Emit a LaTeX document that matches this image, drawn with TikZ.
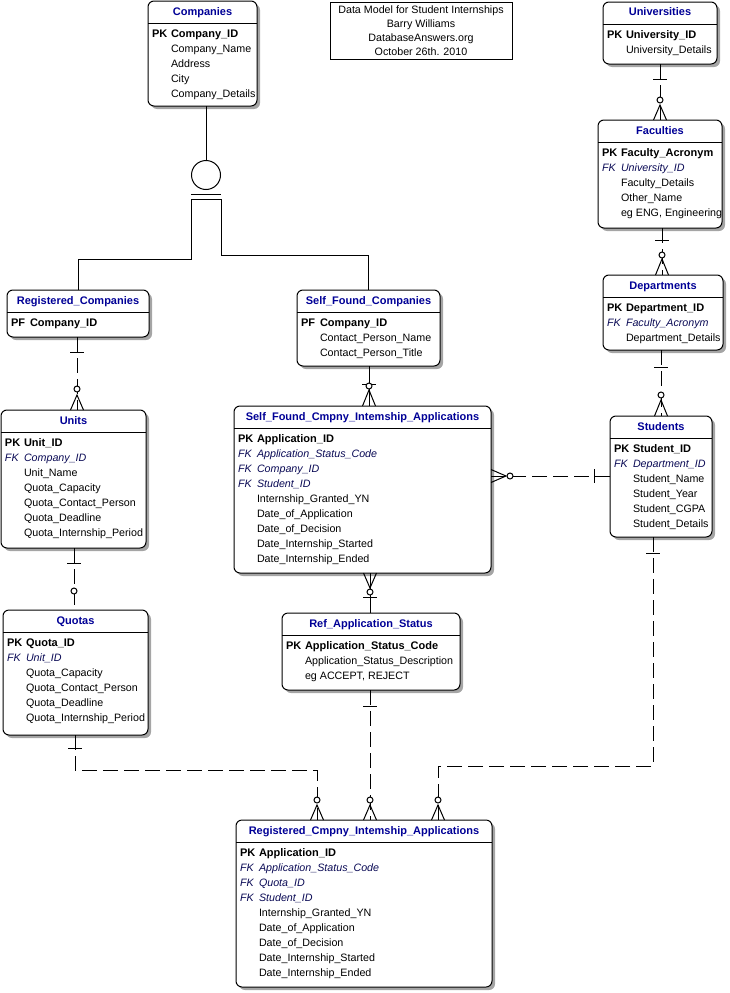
\documentclass[tikz,border=0pt]{standalone}
\usepackage{fontspec}
\setmainfont{Liberation Sans}
\usetikzlibrary{calc}
\definecolor{titleblue}{RGB}{0,0,150}
\definecolor{fkblue}{RGB}{10,10,85}
\definecolor{shadowc}{RGB}{165,165,165}
\tikzset{
  every node/.style={font=\fontsize{10.7}{13}\selectfont, inner sep=0pt, outer sep=0pt},
  entbox/.style={draw, fill=white, rounded corners=6pt, line width=1pt, anchor=north west},
  rel/.style={line width=1pt, dash pattern=on 15pt off 6pt},
  solidrel/.style={line width=1pt},
  endmk/.style={line width=1pt, solid},
}
\newcommand\bigbf{\fontsize{11}{13}\selectfont\bfseries}
\newcommand\erent[6]{%
  \fill[shadowc, rounded corners=6pt] (#2+3,#3+3) rectangle (#2+#4+3,#3+#5+3);
  \node[entbox, minimum width=#4pt, minimum height=#5pt] (#1) at (#2,#3) {};
  \node[anchor=base, text=titleblue] (#1-title) at ([shift={(0,14)}]#1.north) {\bigbf #6};
  \draw[line width=1pt] ([shift={(0,22)}]#1.north west) -- ([shift={(0,22)}]#1.north east);
}
\newcommand\pkrow[4]{%
  \node[anchor=base west] (#1-k#2) at ([shift={(4,36+15*#2)}]#1.north west) {\bigbf #3};
  \node[anchor=base west] (#1-a#2) at ([shift={(23,36+15*#2)}]#1.north west) {\bigbf #4};}
\newcommand\fkrow[3]{%
  \node[anchor=base west, text=fkblue] (#1-k#2) at ([shift={(4,36+15*#2)}]#1.north west) {\itshape FK};
  \node[anchor=base west, text=fkblue] (#1-a#2) at ([shift={(23,36+15*#2)}]#1.north west) {\itshape #3};}
\newcommand\plrow[3]{%
  \node[anchor=base west] (#1-a#2) at ([shift={(23,36+15*#2)}]#1.north west) {#3};}
\newcommand\onebar[2]{\draw[endmk] ([shift={(-7,#2)}]#1) -- ([shift={(7,#2)}]#1);}
\newcommand\zeroc[2]{\draw[endmk, fill=white] ([shift={(0,#2)}]#1) circle (3pt);}
\newcommand\crowft[2]{\draw[endmk] ([shift={(-6.5,0)}]#1) -- ([shift={(0,#2)}]#1) -- ([shift={(6.5,0)}]#1);}
\begin{document}
\begin{tikzpicture}[x=1pt,y=-1pt]
\useasboundingbox (0,0) rectangle (729,993);

% ---------- header ----------
\node[draw, line width=1pt, minimum width=182pt, minimum height=57pt, align=center,
      font=\fontsize{10.7}{14}\selectfont, anchor=north west] (hdr) at (330,2)
  {Data Model for Student Internships\\Barry Williams\\DatabaseAnswers.org\\October 26th. 2010};

% ---------- entities ----------
\erent{companies}{148}{1}{109}{105}{Companies}
\pkrow{companies}{0}{PK}{Company\_ID}
\plrow{companies}{1}{Company\_Name}
\plrow{companies}{2}{Address}
\plrow{companies}{3}{City}
\plrow{companies}{4}{Company\_Details}

\erent{regco}{7}{290}{142}{47}{Registered\_Companies}
\pkrow{regco}{0}{PF}{Company\_ID}

\erent{sfco}{297}{290}{143}{76}{Self\_Found\_Companies}
\pkrow{sfco}{0}{PF}{Company\_ID}
\plrow{sfco}{1}{Contact\_Person\_Name}
\plrow{sfco}{2}{Contact\_Person\_Title}

\erent{units}{1}{410}{145}{138}{Units}
\pkrow{units}{0}{PK}{Unit\_ID}
\fkrow{units}{1}{Company\_ID}
\plrow{units}{2}{Unit\_Name}
\plrow{units}{3}{Quota\_Capacity}
\plrow{units}{4}{Quota\_Contact\_Person}
\plrow{units}{5}{Quota\_Deadline}
\plrow{units}{6}{Quota\_Internship\_Period}

\erent{quotas}{3}{610}{145}{125}{Quotas}
\pkrow{quotas}{0}{PK}{Quota\_ID}
\fkrow{quotas}{1}{Unit\_ID}
\plrow{quotas}{2}{Quota\_Capacity}
\plrow{quotas}{3}{Quota\_Contact\_Person}
\plrow{quotas}{4}{Quota\_Deadline}
\plrow{quotas}{5}{Quota\_Internship\_Period}

\erent{sfapps}{234}{406}{257}{167}{Self\_Found\_Cmpny\_Intemship\_Applications}
\pkrow{sfapps}{0}{PK}{Application\_ID}
\fkrow{sfapps}{1}{Application\_Status\_Code}
\fkrow{sfapps}{2}{Company\_ID}
\fkrow{sfapps}{3}{Student\_ID}
\plrow{sfapps}{4}{Internship\_Granted\_YN}
\plrow{sfapps}{5}{Date\_of\_Application}
\plrow{sfapps}{6}{Date\_of\_Decision}
\plrow{sfapps}{7}{Date\_Internship\_Started}
\plrow{sfapps}{8}{Date\_Internship\_Ended}

\erent{refstat}{282}{613}{178}{77}{Ref\_Application\_Status}
\pkrow{refstat}{0}{PK}{Application\_Status\_Code}
\plrow{refstat}{1}{Application\_Status\_Description}
\plrow{refstat}{2}{eg ACCEPT, REJECT}

\erent{regapps}{236}{820}{256}{167}{Registered\_Cmpny\_Intemship\_Applications}
\pkrow{regapps}{0}{PK}{Application\_ID}
\fkrow{regapps}{1}{Application\_Status\_Code}
\fkrow{regapps}{2}{Quota\_ID}
\fkrow{regapps}{3}{Student\_ID}
\plrow{regapps}{4}{Internship\_Granted\_YN}
\plrow{regapps}{5}{Date\_of\_Application}
\plrow{regapps}{6}{Date\_of\_Decision}
\plrow{regapps}{7}{Date\_Internship\_Started}
\plrow{regapps}{8}{Date\_Internship\_Ended}

\erent{univ}{603}{2}{114}{62}{Universities}
\pkrow{univ}{0}{PK}{University\_ID}
\plrow{univ}{1}{University\_Details}

\erent{fac}{598}{120}{124}{108}{Faculties}
\pkrow{fac}{0}{PK}{Faculty\_Acronym}
\fkrow{fac}{1}{University\_ID}
\plrow{fac}{2}{Faculty\_Details}
\plrow{fac}{3}{Other\_Name}
\plrow{fac}{4}{eg ENG, Engineering}

\erent{dept}{603}{275}{120}{75}{Departments}
\pkrow{dept}{0}{PK}{Department\_ID}
\fkrow{dept}{1}{Faculty\_Acronym}
\plrow{dept}{2}{Department\_Details}

\erent{stud}{610}{416}{102}{121}{Students}
\pkrow{stud}{0}{PK}{Student\_ID}
\fkrow{stud}{1}{Department\_ID}
\plrow{stud}{2}{Student\_Name}
\plrow{stud}{3}{Student\_Year}
\plrow{stud}{4}{Student\_CGPA}
\plrow{stud}{5}{Student\_Details}

% ---------- subtype (Companies) ----------
\node[draw, circle, minimum size=29pt, line width=1pt] (sub) at (206,175) {};
\draw[solidrel] (companies.south -| sub) -- (sub.north);
\coordinate (sL) at (191,199);
\coordinate (sR) at (221,199);
\draw[solidrel] ([shift={(0,-5)}]sL) -- ([shift={(0,-5)}]sR);
\draw[solidrel] (regco.north) -- ++(0,-31) -| (sL) -- (sR) |- ([shift={(0,-35)}]sfco.north) -- (sfco.north);

% ---------- relationships ----------
% Registered_Companies -> Units
\coordinate (xa) at (77,0);
\draw[rel] (regco.south -| xa) coordinate (a1) -- (units.north -| xa) coordinate (a2);
\onebar{a1}{15} \zeroc{a2}{-21} \crowft{a2}{-15}

% Units -> Quotas
\coordinate (xb) at (74,0);
\draw[rel] (units.south -| xb) coordinate (b1) -- (quotas.north -| xb) coordinate (b2);
\onebar{b1}{15} \zeroc{b2}{-19}

% Quotas -> Registered apps
\coordinate (xc) at (75,0);
\coordinate (xc2) at (317,0);
\draw[rel] (quotas.south -| xc) coordinate (c1) -- ++(0,35) -| (regapps.north -| xc2) coordinate (c2);
\onebar{c1}{13} \zeroc{c2}{-20} \crowft{c2}{-15}

% Ref_Application_Status -> Registered apps
\coordinate (xd) at (370,0);
\draw[rel] (refstat.south -| xd) coordinate (d1) -- (regapps.north -| xd) coordinate (d2);
\onebar{d1}{16} \zeroc{d2}{-20} \crowft{d2}{-15}

% Students -> Registered apps
\coordinate (xe) at (653,0);
\coordinate (xe2) at (438,0);
\draw[rel] (stud.south -| xe) coordinate (e1) -- ++(0,229) -| (regapps.north -| xe2) coordinate (e2);
\onebar{e1}{16} \zeroc{e2}{-20} \crowft{e2}{-15}

% Self_Found_Companies -> Self_Found apps
\coordinate (xf) at (369,0);
\draw[solidrel] (sfco.south -| xf) coordinate (f1) -- (sfapps.north -| xf) coordinate (f2);
\onebar{f1}{18} \zeroc{f2}{-20} \crowft{f2}{-16}

% Ref_Application_Status -> Self_Found apps
\coordinate (xg) at (370,0);
\draw[solidrel] (refstat.north -| xg) coordinate (g1) -- (sfapps.south -| xg) coordinate (g2);
\onebar{g1}{-16} \zeroc{g2}{19} \crowft{g2}{15}

% Universities -> Faculties
\coordinate (xh) at (660,0);
\draw[rel] (univ.south -| xh) coordinate (h1) -- (fac.north -| xh) coordinate (h2);
\onebar{h1}{15} \zeroc{h2}{-20} \crowft{h2}{-15}

% Faculties -> Departments
\coordinate (xi) at (662,0);
\draw[rel] (fac.south -| xi) coordinate (i1) -- (dept.north -| xi) coordinate (i2);
\onebar{i1}{12} \zeroc{i2}{-20} \crowft{i2}{-16}

% Departments -> Students
\coordinate (xj) at (661,0);
\draw[rel] (dept.south -| xj) coordinate (j1) -- (stud.north -| xj) coordinate (j2);
\onebar{j1}{17} \zeroc{j2}{-21} \crowft{j2}{-16}

% Students -> Self_Found apps (horizontal)
\coordinate (yk) at (0,476);
\draw[rel] (stud.west |- yk) coordinate (k1) -- (sfapps.east |- yk) coordinate (k2);
\draw[endmk] ([shift={(-16,-7)}]k1) -- ([shift={(-16,7)}]k1);
\draw[endmk] ([shift={(0,-6.5)}]k2) -- ([shift={(15,0)}]k2) -- ([shift={(0,6.5)}]k2);
\draw[endmk, fill=white] ([shift={(19,0)}]k2) circle (3pt);
\end{tikzpicture}
\end{document}
